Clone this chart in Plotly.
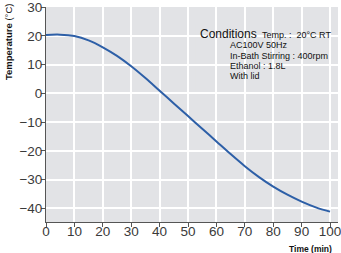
import plotly.graph_objects as go

time_min = [0, 5, 10, 15, 20, 25, 30, 35, 40, 45, 50, 55, 60, 65, 70, 75, 80, 85, 90, 95, 100]
temperature = [20.3, 20.4, 19.9, 18.4, 16.0, 13.0, 9.4, 5.3, 0.9, -3.5, -7.9, -12.3, -16.7,
               -21.1, -25.3, -29.1, -32.4, -35.2, -37.6, -39.6, -41.1]
x_ticks = [0, 10, 20, 30, 40, 50, 60, 70, 80, 90, 100]
y_ticks = [-40, -30, -20, -10, 0, 10, 20, 30]

conditions_title = "Conditions"
conditions_lines = ["Temp. :  20°C RT", "AC100V 50Hz", "In-Bath Stirring : 400rpm",
                    "Ethanol : 1.8L", "With lid"]

W, H = 341, 253
L, R, T, B = 46, 0, 5, 31
pw, ph = W - L - R, H - T - B
BG = "#e2e3e6"
FONT = "Liberation Sans, Arial, sans-serif"


def px(x):
    return (x - L) / pw


def py(y):
    return (H - B - y) / ph


fig = go.Figure()
fig.add_trace(go.Scatter(x=time_min, y=temperature, mode="lines",
                         line=dict(color="#2d5fa7", width=2, shape="spline", smoothing=1.0),
                         hoverinfo="skip", showlegend=False))

tickfont = dict(family=FONT, size=13.5, color="#3a3a3a")
fig.update_layout(
    width=W, height=H, margin=dict(l=L, r=R, t=T, b=B, pad=0),
    paper_bgcolor="white", plot_bgcolor=BG,
    xaxis=dict(range=[0, 102.8], tickvals=x_ticks, ticks="outside", ticklen=4, tickcolor="#555",
               showline=True, linecolor="#555", linewidth=1, gridcolor="white", gridwidth=1.5,
               zeroline=False, tickfont=tickfont, ticklabeloverflow="allow",
               ticklabelstandoff=-7),
    yaxis=dict(range=[-44.7, 30], tickvals=y_ticks, ticks="outside", ticklen=4, tickcolor="#555",
               showline=True, linecolor="#555", linewidth=1, gridcolor="white", gridwidth=1.5,
               zeroline=False, tickfont=tickfont, ticklabeloverflow="allow",
               ticklabelstandoff=-4),
)

# box masking gridlines behind the conditions text
fig.add_shape(type="rect", xref="paper", yref="paper", x0=px(197), x1=px(338), y0=py(92), y1=py(23),
              fillcolor=BG, line=dict(width=0), layer="between")

fig.add_annotation(text=conditions_title, xref="paper", yref="paper", x=px(200), y=py(32),
                   xanchor="left", yanchor="middle", showarrow=False,
                   font=dict(family=FONT, size=12, color="#111"))
cond_pos = [(262, 33), (230, 43.5), (230, 54), (230, 64.5), (230, 75)]
for line, (xx, yy) in zip(conditions_lines, cond_pos):
    fig.add_annotation(text=line, xref="paper", yref="paper", x=px(xx), y=py(yy),
                       xanchor="left", yanchor="middle", showarrow=False,
                       font=dict(family=FONT, size=9, color="#111"))

fig.add_annotation(text="<b>Temperature</b> (°C)", xref="paper", yref="paper", x=px(8), y=py(40),
                   xanchor="center", yanchor="middle", textangle=-90, showarrow=False,
                   font=dict(family=FONT, size=9.5, color="#111"))
fig.add_annotation(text="<b>Time (min)</b>", xref="paper", yref="paper", x=px(313), y=py(249),
                   xanchor="center", yanchor="middle", showarrow=False,
                   font=dict(family=FONT, size=8.5, color="#111"))

fig.write_html("out.html", config={"displayModeBar": False},
               post_script="document.body.style.margin='0';document.body.style.overflow='hidden';")
